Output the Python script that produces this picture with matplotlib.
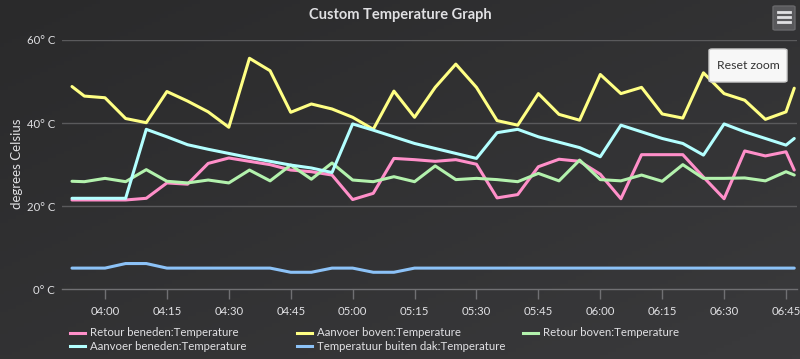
import matplotlib
matplotlib.use("Agg")
import matplotlib.pyplot as plt
import numpy as np
from matplotlib.colors import LinearSegmentedColormap
from matplotlib.patches import FancyBboxPatch
from matplotlib.lines import Line2D

plt.rcParams['font.family'] = ['Lato', 'DejaVu Sans']

# ---------------- data ----------------
times = ["03:52", "03:55", "04:00", "04:05", "04:10", "04:15", "04:20", "04:25", "04:30",
         "04:35", "04:40", "04:45", "04:50", "04:55", "05:00", "05:05", "05:10", "05:15",
         "05:20", "05:25", "05:30", "05:35", "05:40", "05:45", "05:50", "05:55", "06:00",
         "06:05", "06:10", "06:15", "06:20", "06:25", "06:30", "06:35", "06:40", "06:45",
         "06:47"]

retour_beneden = [21.5, 21.5, 21.5, 21.5, 21.9, 25.6, 25.3, 30.3, 31.6, 30.8, 30.0, 28.7,
                  28.3, 27.5, 21.6, 23.1, 31.5, 31.2, 30.8, 31.2, 30.1, 22.0, 22.8, 29.5,
                  31.3, 30.8, 27.7, 21.8, 32.4, 32.4, 32.4, 27.0, 21.8, 33.3, 32.1, 33.1,
                  28.7]
aanvoer_boven = [48.8, 46.5, 46.1, 41.1, 40.1, 47.6, 45.3, 42.7, 39.0, 55.6, 52.6, 42.6,
                 44.6, 43.4, 41.4, 38.5, 47.7, 41.4, 48.6, 54.2, 48.6, 40.6, 39.5, 47.1,
                 42.1, 40.7, 51.7, 47.1, 48.6, 42.2, 41.2, 52.1, 47.1, 45.5, 40.9, 42.7,
                 48.4]
retour_boven = [26.0, 25.9, 26.7, 25.9, 28.8, 26.0, 25.6, 26.3, 25.6, 28.7, 26.1, 29.9,
                26.5, 30.4, 26.3, 25.9, 27.1, 25.9, 29.7, 26.4, 26.7, 26.4, 25.9, 27.9,
                26.1, 31.1, 26.4, 26.1, 27.5, 26.0, 30.0, 26.7, 26.7, 26.8, 26.1, 28.3,
                27.5]
aanvoer_beneden = [21.9, 21.9, 21.9, 21.9, 38.5, 36.7, 34.8, 33.7, 32.7, 31.7, 30.8, 29.9,
                   29.2, 28.1, 39.8, 38.3, 36.7, 35.1, 33.9, 32.7, 31.5, 37.7, 38.5, 36.7,
                   35.4, 34.1, 31.9, 39.5, 37.9, 36.3, 35.1, 32.3, 39.8, 37.9, 36.3, 34.7,
                   36.3]
buiten_dak = [5.1, 5.1, 5.1, 6.2, 6.2, 5.1, 5.1, 5.1, 5.1, 5.1, 5.1, 4.1,
              4.1, 5.1, 5.1, 4.1, 4.1, 5.1, 5.1, 5.1, 5.1, 5.1, 5.1, 5.1,
              5.1, 5.1, 5.1, 5.1, 5.1, 5.1, 5.1, 5.1, 5.1, 5.1, 5.1, 5.1,
              5.1]

series_names = ["Retour beneden:Temperature", "Aanvoer boven:Temperature",
                "Retour boven:Temperature", "Aanvoer beneden:Temperature",
                "Temperatuur buiten dak:Temperature"]
series_values = [retour_beneden, aanvoer_boven, retour_boven, aanvoer_beneden, buiten_dak]
series_colors = ["#ff8fc9", "#ffff84", "#b3f2ad", "#b3ffff", "#8cc2f7"]

xtick_labels = ["04:00", "04:15", "04:30", "04:45", "05:00", "05:15", "05:30",
                "05:45", "06:00", "06:15", "06:30", "06:45"]
ytick_values = [0, 20, 40, 60]
ytick_labels = ["0° C", "20° C", "40° C", "60° C"]

title = "Custom Temperature Graph"
ylabel = "degrees Celsius"


def to_min(s):
    h, m = s.split(":")
    return int(h) * 60 + int(m)


W, H = 800, 359
fig = plt.figure(figsize=(W / 100, H / 100), dpi=100)


def fx(px):
    return px / W


def fy(py):
    return 1 - py / H


# background gradient (diagonal)
bg = fig.add_axes([0, 0, 1, 1], zorder=-10)
gx, gy = np.meshgrid(np.linspace(0, 1, 200), np.linspace(0, 1, 100))
grad = (gx + gy) / 2
cmap = LinearSegmentedColormap.from_list("bg", ["#2a2a2b", "#3a3a3c"])
bg.imshow(grad, aspect='auto', cmap=cmap, extent=[0, 1, 0, 1], origin='upper')
bg.set_axis_off()

TEXT = "#e0e0e3"
GRID = "#5a5a5c"
AXIS = "#707073"

ax = fig.add_axes([fx(62), fy(289.3), fx(797) - fx(62), fy(40) - fy(289.3)])
ax.set_facecolor("none")

x = [to_min(t) for t in times]
for vals, col in zip(series_values, series_colors):
    ax.plot(x, vals, color=col, lw=2.2, solid_joinstyle='round', solid_capstyle='round',
            zorder=3, clip_on=False)

xmin = 240 - 43 / 4.127
xmax = 405 + 11 / 4.127
ax.set_xlim(xmin, xmax)
ax.set_ylim(0, 60)

ax.set_xticks([to_min(t) for t in xtick_labels])
ax.set_xticklabels(xtick_labels)
ax.set_yticks(ytick_values)
ax.set_yticklabels(ytick_labels)

ax.tick_params(axis='x', colors=AXIS, length=7, width=1, direction='out', pad=5,
               labelcolor=TEXT, labelsize=8.2)
ax.tick_params(axis='y', length=0, pad=5, labelcolor=TEXT, labelsize=8.2)

for s in ["top", "right", "left"]:
    ax.spines[s].set_visible(False)
ax.spines["bottom"].set_color(AXIS)
ax.spines["bottom"].set_linewidth(1)

for yv in ytick_values[1:]:
    ax.axhline(yv, color=GRID, lw=1, zorder=1)

fig.text(fx(17), fy(164), ylabel, rotation=90, ha='center', va='center',
         color=TEXT, fontsize=9.5)
fig.text(fx(400), fy(15), title, ha='center', va='center', color=TEXT,
         fontsize=10.5, fontweight='bold')

# legend (Highcharts style, fixed column widths)
leg_pos = [(70, 333), (297, 333), (523, 333), (70, 346), (297, 346)]
for (px, py), name, col in zip(leg_pos, series_names, series_colors):
    fig.add_artist(Line2D([fx(px), fx(px + 15)], [fy(py), fy(py)], color=col, lw=2.2,
                          transform=fig.transFigure))
    fig.text(fx(px + 20), fy(py), name, ha='left', va='center', color=TEXT, fontsize=8.2)

# Reset zoom button
btn = FancyBboxPatch((fx(709), fy(82)), fx(787) - fx(709), fy(49) - fy(82),
                     boxstyle="round,pad=0,rounding_size=0.004",
                     transform=fig.transFigure, facecolor="#f7f7f7",
                     edgecolor="#cccccc", lw=1, zorder=5)
fig.add_artist(btn)
fig.text(fx(748), fy(65.5), "Reset zoom", ha='center', va='center', color="#333333",
         fontsize=8.8, zorder=6)

# context menu icon
menu = FancyBboxPatch((fx(773), fy(30)), fx(795) - fx(773), fy(6) - fy(30),
                      boxstyle="round,pad=0,rounding_size=0.003",
                      transform=fig.transFigure, facecolor="#58585b",
                      edgecolor="#68686b", lw=1, zorder=5)
fig.add_artist(menu)
for ly in (12, 17, 22):
    fig.add_artist(Line2D([fx(778), fx(790)], [fy(ly), fy(ly)], color="#e0e0e3", lw=2,
                          transform=fig.transFigure, zorder=6))

fig.savefig("out.png", dpi=100)
